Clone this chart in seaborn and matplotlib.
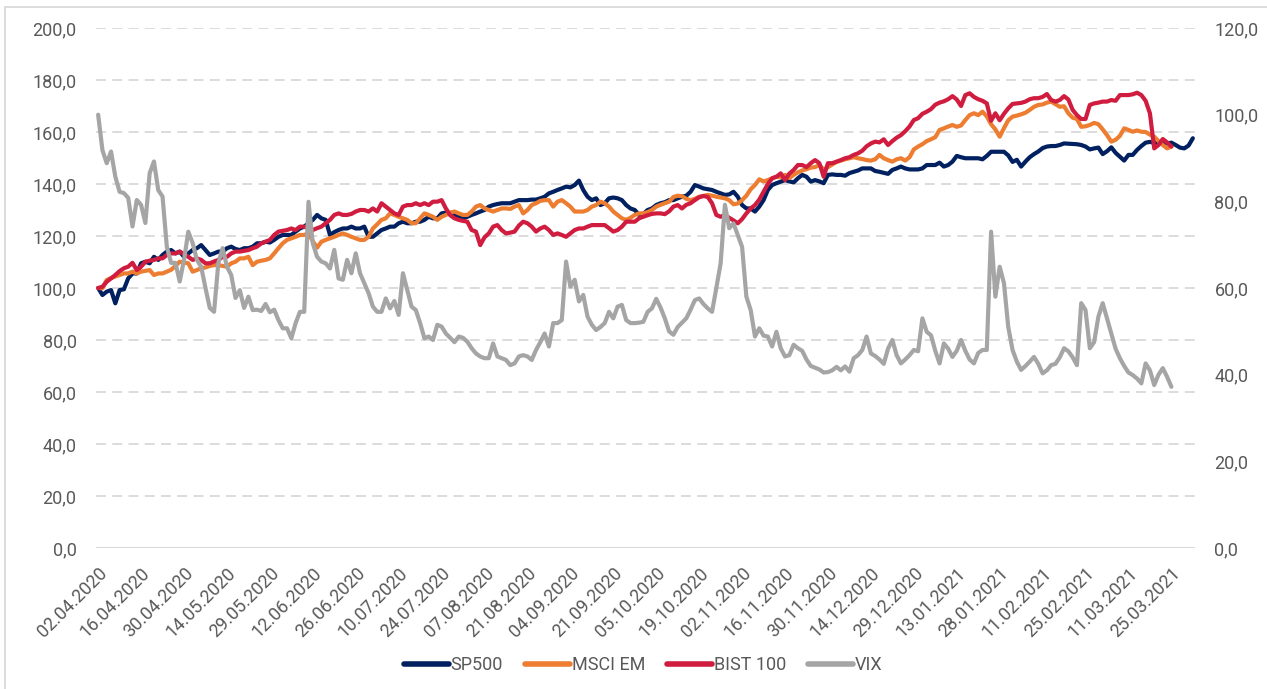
import matplotlib
matplotlib.use("Agg")
import matplotlib.pyplot as plt
from matplotlib.lines import Line2D
from matplotlib.patches import Rectangle
import pandas as pd
import seaborn as sns

##################### Data #################################
tick_dates = ["02.04.2020", "16.04.2020", "30.04.2020", "14.05.2020", "29.05.2020",
              "12.06.2020", "26.06.2020", "10.07.2020", "24.07.2020", "07.08.2020",
              "21.08.2020", "04.09.2020", "21.09.2020", "05.10.2020", "19.10.2020",
              "02.11.2020", "16.11.2020", "30.11.2020", "14.12.2020", "29.12.2020",
              "13.01.2021", "28.01.2021", "11.02.2021", "25.02.2021", "11.03.2021",
              "25.03.2021"]

sp500 = [100.0, 97.3, 98.6, 99.2, 94.1, 99.2, 99.5, 103.7, 105.6, 105.6,
         109.5, 110.1, 109.5, 112.0, 110.8, 112.7, 114.0, 114.6, 113.3, 114.0,
         112.0, 113.3, 114.6, 115.3, 116.5, 114.6, 112.7, 113.3, 114.0, 114.0,
         115.3, 115.9, 115.0, 114.6, 115.3, 115.3, 115.9, 117.2, 117.2, 117.8,
         117.5, 118.5, 119.7, 120.4, 120.4, 120.4, 121.7, 122.9, 123.6, 124.9,
         126.2, 128.1, 126.8, 126.2, 120.4, 121.5, 122.3, 122.9, 122.9, 123.6,
         122.9, 122.9, 123.6, 119.7, 119.7, 121.0, 122.3, 122.9, 123.6, 123.6,
         124.9, 125.5, 124.9, 124.9, 125.5, 125.5, 126.2, 127.4, 126.8, 126.8,
         128.7, 129.0, 128.5, 128.0, 127.4, 126.8, 127.4, 128.1, 128.7, 129.4,
         130.0, 131.3, 131.9, 132.3, 132.6, 132.6, 132.6, 133.2, 133.8, 133.8,
         133.8, 134.0, 134.0, 134.5, 135.1, 136.4, 137.0, 137.7, 138.3, 139.0,
         138.7, 139.6, 141.3, 137.7, 135.1, 133.8, 134.5, 131.9, 132.6, 134.5,
         134.8, 134.5, 133.8, 131.9, 130.6, 130.0, 128.1, 128.5, 130.0, 130.6,
         131.9, 132.6, 133.0, 133.8, 133.8, 134.5, 135.1, 135.5, 137.0, 139.6,
         139.0, 138.3, 138.0, 137.7, 137.0, 136.4, 135.8, 136.0, 137.0, 135.1,
         131.9, 130.6, 130.6, 129.4, 131.3, 133.8, 137.7, 139.6, 140.3, 140.9,
         141.5, 141.0, 140.6, 142.2, 143.5, 142.8, 140.9, 141.5, 141.0, 140.3,
         143.5, 143.7, 143.5, 143.5, 143.2, 144.2, 144.7, 145.2, 146.0, 146.0,
         146.0, 145.0, 144.7, 144.3, 143.9, 145.4, 146.0, 146.7, 146.0, 145.6,
         145.6, 145.6, 146.0, 147.3, 147.3, 147.3, 148.2, 146.7, 147.3, 148.6,
         150.8, 150.3, 149.9, 149.9, 149.9, 149.9, 149.5, 150.8, 152.4, 152.4,
         152.4, 152.4, 151.0, 148.5, 149.3, 146.7, 148.6, 150.3, 151.5, 152.5,
         153.8, 154.4, 154.6, 154.6, 155.0, 155.6, 155.5, 155.4, 155.3, 155.0,
         154.4, 153.3, 153.7, 154.0, 151.5, 152.6, 154.1, 152.0, 150.5, 149.0,
         151.2, 151.2, 153.1, 154.6, 155.9, 156.2, 155.8, 156.0, 156.2, 155.6,
         155.9, 155.0, 154.0, 153.7, 154.8, 157.6]

msci_em = [100.0, 99.9, 103.1, 103.8, 104.4, 105.0, 105.6, 105.6, 106.3, 105.6,
           106.3, 106.6, 106.9, 105.0, 105.6, 105.6, 106.3, 107.0, 108.5, 110.1,
           109.8, 109.5, 106.3, 106.9, 107.6, 107.9, 108.5, 108.8, 108.8, 108.5,
           108.2, 109.5, 110.1, 111.4, 111.4, 112.0, 108.8, 110.1, 110.5, 110.8,
           111.4, 113.3, 115.3, 117.2, 118.5, 119.1, 119.7, 120.4, 120.4, 121.0,
           118.0, 115.5, 117.8, 118.5, 119.1, 119.7, 120.4, 121.0, 120.4, 119.7,
           119.1, 118.5, 118.5, 119.7, 122.9, 124.5, 126.2, 126.8, 128.7, 128.1,
           127.4, 126.8, 126.2, 124.9, 124.9, 126.8, 128.7, 128.1, 127.4, 126.2,
           127.4, 128.1, 129.0, 129.4, 128.7, 128.1, 128.1, 129.4, 131.3, 131.9,
           130.6, 130.0, 129.4, 130.0, 130.6, 130.6, 130.4, 131.3, 131.9, 128.7,
           130.0, 131.9, 132.6, 133.5, 133.8, 133.8, 131.3, 133.2, 133.8, 132.6,
           131.3, 129.4, 129.4, 129.4, 130.0, 131.3, 131.9, 133.2, 132.6, 131.3,
           129.4, 128.1, 126.8, 126.2, 127.0, 128.1, 128.7, 128.7, 129.2, 130.0,
           131.3, 132.0, 132.6, 133.2, 135.0, 135.5, 135.3, 134.3, 133.8, 134.3,
           135.1, 135.4, 135.8, 135.5, 135.1, 134.8, 134.5, 133.8, 132.2, 132.5,
           133.8, 135.5, 138.0, 139.6, 141.8, 141.0, 141.5, 142.2, 142.8, 142.6,
           143.5, 142.3, 143.5, 144.5, 145.2, 145.7, 146.3, 146.5, 147.3, 145.5,
           146.5, 147.5, 148.5, 149.0, 149.5, 149.9, 150.3, 149.9, 149.6, 149.2,
           149.0, 149.5, 151.2, 149.9, 149.2, 148.6, 149.5, 149.9, 149.0, 150.3,
           153.3, 154.4, 155.3, 156.5, 157.2, 158.0, 160.8, 161.4, 162.1, 162.7,
           162.0, 162.5, 164.6, 166.5, 167.2, 166.5, 167.8, 166.0, 163.0, 161.0,
           158.2, 161.5, 164.5, 165.9, 166.3, 166.8, 167.4, 168.5, 169.7, 170.4,
           170.6, 171.3, 171.7, 170.7, 169.7, 169.9, 167.2, 165.5, 165.0, 162.0,
           162.2, 162.7, 163.5, 163.0, 161.0, 158.8, 156.3, 157.0, 158.5, 161.4,
           160.8, 160.1, 160.6, 160.1, 160.0, 159.0, 158.2, 156.5, 155.0, 153.7,
           154.4]

bist100 = [100.0, 100.5, 102.4, 103.7, 105.0, 106.5, 107.6, 108.2, 109.7, 106.9,
           108.2, 110.1, 110.5, 110.8, 111.4, 111.4, 112.7, 113.3, 113.3, 114.0,
           113.0, 112.0, 110.8, 111.4, 110.8, 109.5, 109.5, 110.2, 110.8, 112.0,
           112.0, 113.3, 114.0, 114.0, 114.3, 114.6, 115.3, 115.9, 117.2, 117.8,
           118.5, 120.4, 121.7, 122.0, 122.3, 122.9, 122.3, 123.6, 123.6, 122.9,
           122.3, 123.0, 123.6, 124.9, 126.2, 128.1, 128.7, 128.1, 128.1, 128.5,
           129.4, 130.0, 130.0, 129.4, 130.6, 129.4, 132.6, 131.3, 130.0, 128.7,
           128.1, 131.3, 131.9, 131.9, 132.6, 131.9, 132.6, 131.9, 133.2, 133.2,
           133.8, 130.6, 128.0, 126.8, 126.2, 125.8, 125.5, 122.3, 121.7, 116.5,
           119.5, 121.0, 123.6, 124.2, 122.3, 121.0, 121.3, 121.7, 124.0, 125.5,
           124.9, 123.6, 121.7, 122.9, 123.6, 122.3, 120.4, 121.0, 120.4, 119.7,
           121.0, 122.3, 122.9, 122.9, 123.6, 124.2, 124.2, 124.2, 124.2, 123.0,
           121.7, 122.3, 123.6, 125.5, 125.5, 125.5, 126.8, 127.4, 128.0, 128.5,
           128.7, 128.7, 128.4, 129.5, 131.3, 131.9, 130.6, 132.0, 132.6, 133.8,
           134.9, 135.4, 135.0, 132.6, 128.1, 127.4, 128.1, 127.0, 126.0, 124.9,
           126.5, 128.7, 130.6, 131.9, 134.0, 137.0, 140.0, 142.2, 142.8, 144.1,
           141.5, 144.0, 145.4, 147.3, 147.3, 146.5, 148.0, 149.2, 148.0, 142.8,
           148.0, 148.0, 148.6, 149.2, 149.9, 150.3, 151.2, 151.8, 152.8, 154.5,
           155.6, 156.3, 156.0, 157.2, 155.0, 156.5, 157.8, 158.8, 160.3, 162.1,
           164.6, 165.3, 167.0, 167.8, 168.8, 170.5, 171.3, 171.8, 172.6, 173.8,
           172.5, 170.0, 174.2, 174.9, 173.5, 172.6, 172.0, 171.0, 164.3, 167.2,
           164.5, 167.0, 169.1, 170.8, 171.0, 171.2, 171.7, 172.6, 173.0, 173.0,
           173.5, 174.6, 172.3, 171.7, 172.3, 173.8, 172.5, 168.5, 166.5, 165.0,
           165.0, 170.4, 171.0, 171.3, 171.7, 171.7, 172.3, 172.0, 174.2, 174.2,
           174.2, 174.5, 175.1, 174.2, 172.0, 167.2, 153.7, 155.0, 157.3, 156.0,
           154.4]

vix = [100.0, 91.8, 88.8, 91.5, 85.7, 82.2, 81.9, 80.8, 74.2, 80.3,
       79.2, 75.0, 86.5, 89.2, 82.6, 81.1, 69.5, 65.8, 65.8, 61.5,
       66.5, 73.0, 70.4, 66.5, 64.9, 60.0, 55.4, 54.5, 65.8, 69.2,
       64.9, 63.0, 57.7, 59.5, 55.4, 58.0, 54.9, 55.0, 54.7, 56.3,
       54.4, 55.0, 52.6, 50.7, 50.7, 48.4, 51.9, 54.5, 54.5, 79.9,
       70.3, 67.2, 66.1, 65.7, 64.5, 68.8, 62.2, 61.9, 66.5, 63.4,
       68.0, 63.4, 61.1, 58.8, 55.7, 54.5, 54.5, 57.6, 55.3, 57.0,
       53.8, 63.4, 59.5, 55.7, 54.9, 51.9, 48.4, 48.8, 48.0, 51.5,
       51.1, 49.5, 48.5, 47.5, 48.8, 48.5, 47.6, 46.1, 44.9, 44.2,
       43.8, 43.8, 47.2, 44.2, 43.8, 43.4, 42.2, 42.6, 44.2, 44.5,
       44.2, 43.4, 45.7, 47.5, 49.5, 46.5, 51.9, 51.9, 52.6, 66.1,
       60.3, 61.9, 56.9, 58.4, 53.4, 51.5, 50.3, 51.0, 51.9, 54.5,
       53.0, 55.7, 56.1, 52.6, 51.9, 51.9, 52.0, 52.2, 54.5, 55.3,
       57.5, 55.5, 53.0, 50.0, 49.2, 51.0, 52.0, 53.0, 55.0, 57.2,
       57.6, 56.3, 55.3, 54.5, 60.0, 65.7, 79.2, 73.8, 74.9, 72.2,
       69.5, 58.0, 54.9, 48.8, 50.7, 49.0, 48.8, 46.5, 49.9, 46.1,
       44.2, 44.5, 46.9, 46.1, 45.5, 43.5, 42.0, 41.6, 41.2, 40.5,
       40.6, 41.0, 41.8, 41.0, 41.9, 40.7, 43.8, 44.5, 45.7, 48.8,
       44.9, 44.3, 43.5, 42.5, 46.0, 48.0, 44.5, 42.6, 43.5, 44.5,
       45.7, 45.4, 53.0, 49.9, 49.1, 45.5, 42.6, 47.2, 46.0, 44.1,
       45.5, 48.0, 45.5, 43.5, 42.6, 45.0, 45.7, 45.7, 73.0, 58.0,
       64.9, 61.1, 51.0, 45.7, 43.0, 41.1, 42.0, 43.0, 44.1, 42.5,
       40.3, 41.0, 42.2, 42.5, 44.0, 46.1, 45.4, 44.0, 42.2, 56.5,
       54.9, 46.1, 47.5, 53.4, 56.5, 53.0, 49.5, 46.0, 43.8, 42.0,
       40.5, 39.9, 39.1, 38.0, 42.6, 41.0, 37.6, 40.0, 41.5, 39.5,
       37.2]

series_names = ["SP500", "MSCI EM", "BIST 100", "VIX"]
colors = {"SP500": "#002060", "MSCI EM": "#ED7D31", "BIST 100": "#D01C3F", "VIX": "#A5A5A5"}
label_color = "#595959"
grid_color = "#D9D9D9"

##################### Plot #################################
sns.set_style("white")
plt.rcParams["font.family"] = ["Roboto", "DejaVu Sans"]

def to_frame(values, name):
    return pd.DataFrame({"day": range(len(values)), "value": values, "series": name})

main_df = pd.concat([to_frame(sp500, "SP500"), to_frame(msci_em, "MSCI EM"),
                     to_frame(bist100, "BIST 100")], ignore_index=True)
vix_df = to_frame(vix, "VIX")

fig = plt.figure(figsize=(12.67, 6.89), dpi=100)
ax = fig.add_axes([96 / 1267, 1 - 548 / 689, (1195 - 96) / 1267, (548 - 28) / 689])

sns.lineplot(data=main_df, x="day", y="value", hue="series", hue_order=series_names[:3],
             palette=colors, linewidth=3, estimator=None, sort=False, legend=False, ax=ax)

ax2 = ax.twinx()
sns.lineplot(data=vix_df, x="day", y="value", color=colors["VIX"], linewidth=3,
             estimator=None, sort=False, legend=False, ax=ax2)

n_days = len(sp500)
ax.set_xlim(-0.5, n_days - 0.5)
ax.set_ylim(0, 200)
ax2.set_ylim(0, 120)

def comma(v):
    return f"{v:.1f}".replace(".", ",")

left_ticks = list(range(0, 201, 20))
ax.set_yticks(left_ticks)
ax.set_yticklabels([comma(v) for v in left_ticks], fontsize=13, color=label_color)
right_ticks = list(range(0, 121, 20))
ax2.set_yticks(right_ticks)
ax2.set_yticklabels([comma(v) for v in right_ticks], fontsize=13, color=label_color)

ax.set_xticks(range(0, n_days, 10))
ax.set_xticklabels(tick_dates, rotation=45, ha="right", va="top", rotation_mode="anchor",
                   fontsize=13, color=label_color)

ax.tick_params(axis="y", length=0, pad=14)
ax2.tick_params(axis="y", length=0, pad=14)
ax.tick_params(axis="x", length=0, pad=11.5)
ax.set_xlabel("")
ax.set_ylabel("")
ax2.set_ylabel("")

for a in (ax, ax2):
    for s in a.spines.values():
        s.set_visible(False)
ax2.grid(False)
ax.grid(False)
for v in left_ticks[1:]:
    ax.axhline(v, color=grid_color, lw=1.3, ls=(0, (5.5, 3.5)), zorder=0)
ax.axhline(0, color=grid_color, lw=1.5, zorder=0)

handles = [Line2D([0], [0], color=colors[n], lw=4) for n in series_names]
fig.legend(handles, series_names, loc="center", bbox_to_anchor=(643 / 1267, 1 - 665 / 689),
           ncol=4, frameon=False, fontsize=13, labelcolor=label_color,
           handlelength=2.5, handletextpad=0.1, columnspacing=1.2)

# chart frame: only the left and top edges fall inside the picture
fig.patches.append(Rectangle((5 / 1267, -0.05), 1.1, 1.05 - 6.5 / 689,
                             transform=fig.transFigure, fill=False,
                             edgecolor=grid_color, lw=1.3))

fig.savefig("out.png", dpi=100)
